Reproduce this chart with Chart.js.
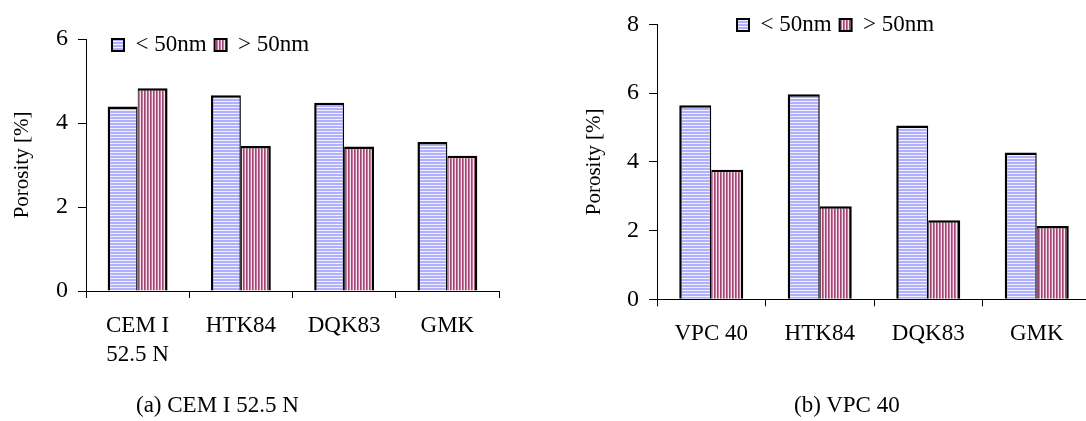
<!DOCTYPE html>
<html><head><meta charset="utf-8">
<script src="https://cdn.jsdelivr.net/npm/chart.js@4.4.1/dist/chart.umd.min.js"></script>
<style>
html,body{margin:0;padding:0;background:#fff;overflow:hidden;}
#wrap{position:relative;width:1086px;height:421px;overflow:hidden;background:#fff;}
canvas{position:absolute;top:0;}
#ca{left:0;} #cb{left:543px;}
.cap{position:absolute;font-family:'Liberation Serif','Times New Roman',serif;font-size:23px;line-height:26px;color:#000;white-space:nowrap;}
</style></head><body>
<div id="wrap">
<canvas id="ca" width="543" height="421"></canvas>
<canvas id="cb" width="560" height="421"></canvas>
<div class="cap" style="left:136px;top:392px">(a) CEM I 52.5 N</div>
<div class="cap" style="left:794px;top:392px">(b) VPC 40</div>
</div>
<script>
// ---- data ----
const seriesLabels = ['< 50nm', '> 50nm'];
const yTitle = 'Porosity [%]';

const categoriesA = [['CEM I', '52.5 N'], 'HTK84', 'DQK83', 'GMK'];
const lt50A = [4.39, 4.66, 4.48, 3.55];
const gt50A = [4.83, 3.45, 3.44, 3.22];
const yTicksA = [0, 2, 4, 6];

const categoriesB = ['VPC 40', 'HTK84', 'DQK83', 'GMK'];
const lt50B = [5.65, 5.97, 5.06, 4.27];
const gt50B = [3.77, 2.71, 2.30, 2.13];
const yTicksB = [0, 2, 4, 6, 8];

// ---- styling ----
const FONT = "'Liberation Serif','Times New Roman',serif";
Chart.defaults.font.family = FONT;
Chart.defaults.color = '#000';
const LEG_FONT = 23, LEG_BOX = 12, LEG_PAD = 8;

function makePattern(w, h, paint) {
  const c = document.createElement('canvas');
  c.width = w; c.height = h;
  const g = c.getContext('2d');
  paint(g);
  return g.createPattern(c, 'repeat');
}
const patBlue = makePattern(4, 3, g => {
  g.fillStyle = '#f0f0ff'; g.fillRect(0, 0, 4, 3);
  g.fillStyle = '#b0b0ff'; g.fillRect(0, 0, 4, 2);
});
const patRed = makePattern(3, 4, g => {
  g.fillStyle = '#f4e2ec'; g.fillRect(0, 0, 3, 4);
  g.fillStyle = '#a04573'; g.fillRect(0, 0, 1, 4);
  g.fillStyle = '#c77a9f'; g.fillRect(1, 0, 1, 4);
});

const legendPlace = {
  id: 'legendPlace',
  afterLayout(chart, args, opts) {
    const lg = chart.legend;
    if (!lg) return;
    const w = lg.width, h = lg.height;
    lg.left = opts.x - LEG_PAD;
    lg.right = lg.left + w;
    lg.top = opts.y - LEG_PAD - Math.max((LEG_FONT - LEG_BOX) / 2, 0);
    lg.bottom = lg.top + h;
  }
};

function build(canvasId, cfg) {
  const ds = (label, data, bg, bw) => ({
    label, data, backgroundColor: bg, borderColor: '#000', borderWidth: bw,
    categoryPercentage: cfg.catPct, barPercentage: 1.0
  });
  return new Chart(document.getElementById(canvasId), {
    type: 'bar',
    data: {
      labels: cfg.labels,
      datasets: [
        ds(seriesLabels[0], cfg.s1, patBlue, {left: 2.5, top: 2.5, right: 1.5, bottom: 0}),
        ds(seriesLabels[1], cfg.s2, patRed, {left: 1, top: 2.5, right: 2.5, bottom: 0})
      ]
    },
    plugins: [legendPlace],
    options: {
      responsive: false,
      animation: false,
      devicePixelRatio: 1,
      events: [],
      layout: {padding: cfg.padding},
      plugins: {
        tooltip: {enabled: false},
        title: {display: false},
        legend: {
          display: true,
          position: 'bottom',
          align: 'start',
          labels: {
            boxWidth: LEG_BOX, boxHeight: LEG_BOX, padding: LEG_PAD,
            color: '#000',
            font: {size: LEG_FONT, family: FONT},
            generateLabels: (chart) => Chart.defaults.plugins.legend.labels.generateLabels(chart)
              .map(l => Object.assign(l, {lineWidth: 2, strokeStyle: '#000'}))
          }
        },
        legendPlace: cfg.legendPos
      },
      scales: {
        x: {
          grid: {display: true, drawOnChartArea: false, drawTicks: true, tickLength: 7, color: '#000', lineWidth: 1, offset: true},
          border: {display: true, color: '#000', width: 1},
          ticks: {color: '#000', padding: 13, maxRotation: 0, autoSkip: false,
                  font: {size: 23, family: FONT, lineHeight: 1.27}},
          afterFit: s => { s.height = cfg.xHeight - (s.chart.legend ? s.chart.legend.height : 0); }
        },
        y: {
          min: cfg.yTicks[0],
          max: cfg.yTicks[cfg.yTicks.length - 1],
          afterBuildTicks: s => { s.ticks = cfg.yTicks.map(v => ({value: v})); },
          grid: {display: true, drawOnChartArea: false, drawTicks: true, tickLength: 8, color: '#000', lineWidth: 1},
          border: {display: true, color: '#000', width: 1},
          ticks: {color: '#000', padding: 10, font: {size: 24, family: FONT}},
          title: {display: true, text: yTitle, color: '#000', padding: {top: 10, bottom: 0},
                  font: {size: 21, family: FONT}},
          afterFit: s => { s.width = cfg.yWidth; }
        }
      }
    }
  });
}

build('ca', {
  labels: categoriesA, s1: lt50A, s2: gt50A, yTicks: yTicksA,
  catPct: 0.58,
  padding: {left: 0, top: 39, right: 44, bottom: 0},
  yWidth: 86, xHeight: 130,
  legendPos: {x: 112, y: 39}
});
build('cb', {
  labels: categoriesB, s1: lt50B, s2: gt50B, yTicks: yTicksB,
  catPct: 0.59,
  padding: {left: 29, top: 16, right: 12, bottom: 0},
  yWidth: 85, xHeight: 121.7,
  legendPos: {x: 194, y: 19}
});
</script>
</body></html>
